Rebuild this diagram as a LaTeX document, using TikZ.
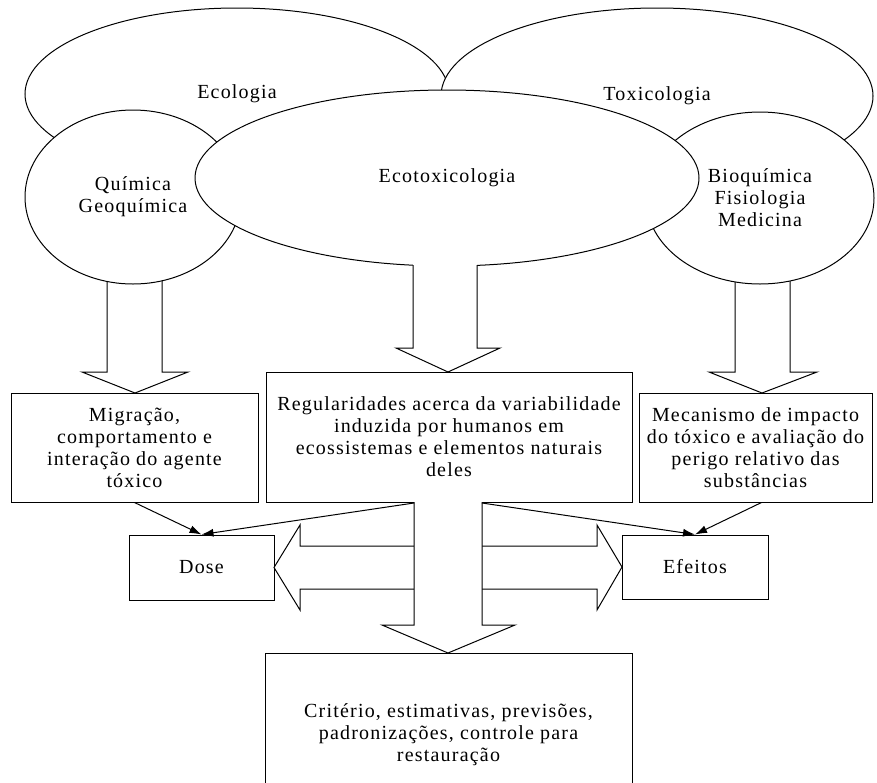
\documentclass[tikz,border=0pt]{standalone}
\usepackage{fontspec}
\setmainfont{Liberation Serif}[LetterSpace=6]
\usetikzlibrary{arrows.meta, shapes.geometric}

\begin{document}
\begin{tikzpicture}[x=1pt, y=-1pt, line width=1pt,
    font=\fontsize{20}{22}\selectfont,
    oval/.style={shape=ellipse, draw, fill=white, inner sep=0pt, align=center},
    caixa/.style={shape=rectangle, draw, fill=white, inner sep=0pt, align=center},
    bloco/.style={draw, fill=white, line join=miter},
    seta/.style={-{Latex[length=12pt, width=8pt]}}]
			% Fundo e limites
			\fill[white] (0,0) rectangle (877,782);
			\useasboundingbox (0,0) rectangle (877,782);
			\clip (0,0) rectangle (877,782);
			% Setas largas de cima (atras dos circulos)
			\draw[bloco] (107,270) -- (107,372) -- (82,372) -- (135,393) -- (188,372) -- (162,372) -- (162,270);
			\draw[bloco] (735,270) -- (735,372) -- (709,372) -- (762,393) -- (817,372) -- (790,372) -- (790,270);
			% Elipses e circulos
			\node[oval, minimum width=424pt, minimum height=172pt] (ecologia) at (237,94) {Ecologia};
			\node[oval, minimum width=432pt, minimum height=176pt] (toxicologia) at (657,96) {Toxicologia};
			\node[oval, minimum width=216pt, minimum height=174pt] (quimica) at (133,197) {Química\\Geoquímica};
			\node[oval, minimum width=228pt, minimum height=172pt] (bioquimica) at (760,198) {Bioquímica\\Fisiologia\\Medicina};
			\node[oval, minimum width=504pt, minimum height=176pt] (ecotox) at (447,178) {Ecotoxicologia};
			% Seta larga que sai da elipse central
			\fill[white] (413,252) -- (413,348) -- (396,348) -- (448,372) -- (500,348) -- (477,348) -- (477,252) -- cycle;
			\draw[line join=miter] (413,265) -- (413,348) -- (396,348) -- (448,372) -- (500,348) -- (477,348) -- (477,265);
			% Caixas
			\node[caixa, minimum width=247pt, minimum height=109pt] (migracao) at (134.5,447.5) {Migração,\\comportamento e\\interação do agente\\tóxico};
			\node[caixa, minimum width=366pt, minimum height=130pt] (regular) at (449,437) {Regularidades acerca da variabilidade\\induzida por humanos em\\ecossistemas e elementos naturais\\deles};
			\node[caixa, minimum width=233pt, minimum height=109pt] (mecanismo) at (755.5,447.5) {Mecanismo de impacto\\do tóxico e avaliação do\\perigo relativo das\\substâncias};
			\node[caixa, minimum width=145pt, minimum height=65pt] (dose) at (201.5,567.5) {Dose};
			\node[caixa, minimum width=146pt, minimum height=64pt] (efeitos) at (695,567) {Efeitos};
			\node[caixa, minimum width=367pt, minimum height=164pt] (criterio) at (448.5,735) {Critério, estimativas, previsões,\\padronizações, controle para\\restauração};
			% Seta larga em cruz, de baixo
			\draw[bloco] (414,546) -- (300,546) -- (300,525) -- (274,567.5) -- (300,610) -- (300,589) -- (414,589);
			\draw[bloco] (482,546) -- (597,546) -- (597,525) -- (622,567) -- (597,610) -- (597,589) -- (482,589);
			\draw[bloco] (414,502) -- (414,625) -- (382,625) -- (448,653) -- (515,625) -- (482,625) -- (482,502);
			% Setas finas
			\coordinate (hasteE) at (414,503);
			\coordinate (hasteD) at (482,503);
			\draw[seta] (migracao.south) -- (dose.north);
			\draw[seta] (hasteE) -- (dose.north);
			\draw[seta] (hasteD) -- (efeitos.north);
			\draw[seta] ([xshift=6pt]mecanismo.south) -- (efeitos.north);
\end{tikzpicture}
\end{document}
